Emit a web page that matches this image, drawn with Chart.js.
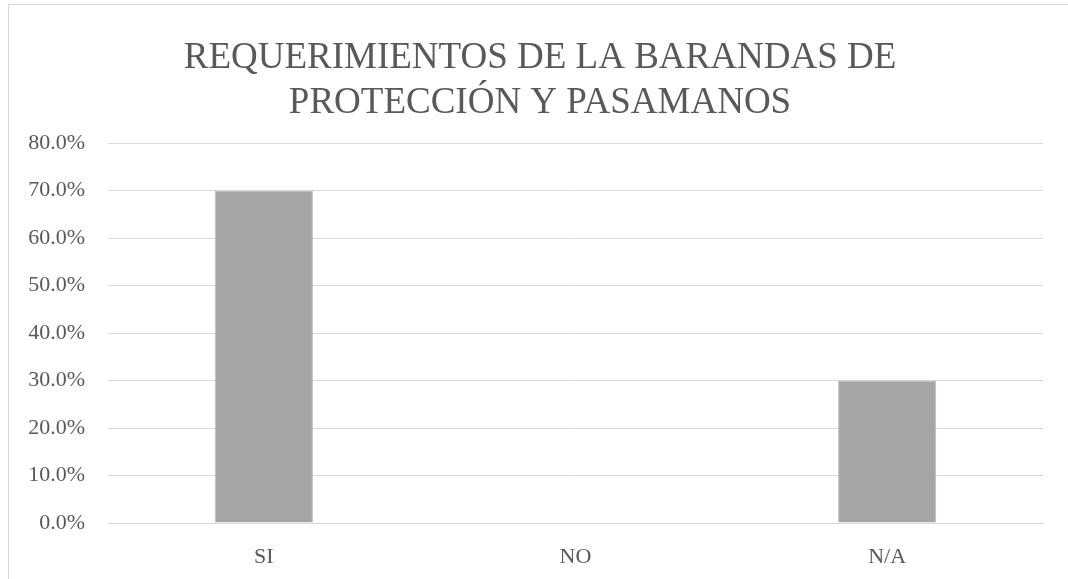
<!DOCTYPE html>
<html>
<head>
<meta charset="utf-8">
<script src="https://cdn.jsdelivr.net/npm/chart.js@4/dist/chart.umd.min.js"></script>
<style>
  html, body { margin: 0; padding: 0; background: #fff; overflow: hidden; }
  #wrap { position: relative; width: 1068px; height: 579px; }
  #frame { position: absolute; left: 8px; top: 4px; width: 1200px; height: 700px; border: 1px solid #d9d9d9; box-sizing: border-box; }
  canvas { position: absolute; left: 0; top: 0; }
</style>
</head>
<body>
<div id="wrap">
  <div id="frame"></div>
  <canvas id="chart" width="1068" height="579"></canvas>
</div>
<script>
// chart data
const titleLines = ['REQUERIMIENTOS DE LA BARANDAS DE', 'PROTECCIÓN Y PASAMANOS'];
const categories = ['SI', 'NO', 'N/A'];
const percentValues = [70, 0, 30];
const yMax = 80;
const yStep = 10;

const textColor = '#595959';
const gridColor = '#d9d9d9';
const serif = "'Liberation Serif', 'Times New Roman', serif";

// title is centred on the outer frame, not on the canvas, so draw it ourselves
const frameTitle = {
  id: 'frameTitle',
  afterDraw(chart) {
    const { ctx } = chart;
    ctx.save();
    ctx.fillStyle = textColor;
    ctx.font = `37px ${serif}`;
    ctx.textAlign = 'center';
    ctx.textBaseline = 'middle';
    titleLines.forEach((line, i) => ctx.fillText(line, 540, 58 + i * 45));
    ctx.restore();
  },
};

new Chart(document.getElementById('chart'), {
  type: 'bar',
  data: {
    labels: categories,
    datasets: [{
      data: percentValues,
      backgroundColor: '#a5a5a5',
      borderColor: '#bdbdbd',
      borderWidth: 1,
      categoryPercentage: 1,
      barPercentage: 0.315,
    }],
  },
  options: {
    responsive: false,
    animation: false,
    layout: { padding: { left: 0, right: 25, top: 143, bottom: 0 } },
    plugins: {
      legend: { display: false },
      tooltip: { enabled: false },
      title: { display: false },
    },
    scales: {
      x: {
        afterFit: (axis) => { axis.height = 56; },
        grid: { display: false, drawTicks: false },
        border: { display: true, color: gridColor, width: 1 },
        ticks: { color: textColor, font: { family: serif, size: 22 }, padding: 21 },
      },
      y: {
        min: 0,
        max: yMax,
        afterFit: (axis) => { axis.width = 108; },
        grid: { color: gridColor, lineWidth: 1, drawTicks: false },
        border: { display: false },
        ticks: {
          stepSize: yStep,
          color: textColor,
          font: { family: serif, size: 22 },
          padding: 23,
          callback: (v) => v.toFixed(1) + '%',
        },
      },
    },
  },
  plugins: [frameTitle],
});
</script>
</body>
</html>
